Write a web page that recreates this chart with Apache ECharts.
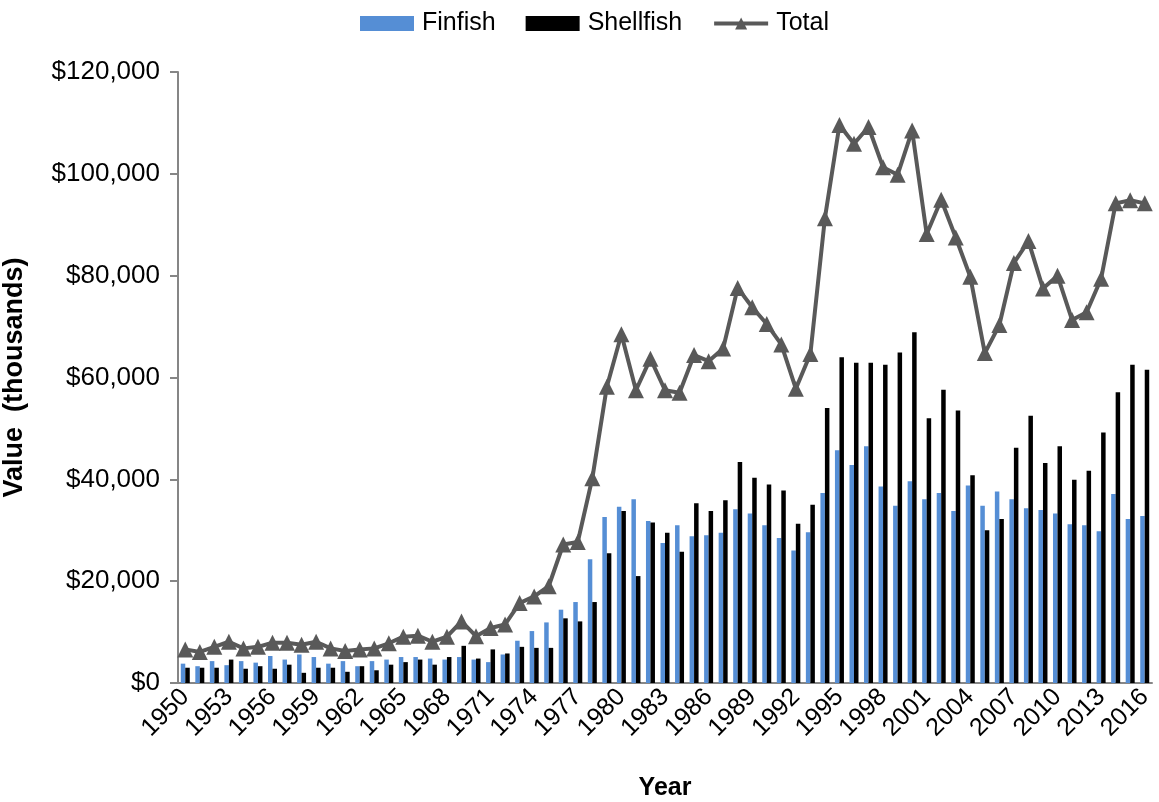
<!DOCTYPE html>
<html>
<head>
<meta charset="utf-8">
<title>Finfish and Shellfish Value</title>
<script src="https://cdn.jsdelivr.net/npm/echarts@6/dist/echarts.min.js"></script>
<style>
  html, body { margin: 0; padding: 0; background: #fff; }
  #chart { width: 1159px; height: 802px; }
</style>
</head>
<body>
<div id="chart"></div>
<script>
  // years on the x axis
  var years = [
    '1950','1951','1952','1953','1954','1955','1956','1957','1958','1959',
    '1960','1961','1962','1963','1964','1965','1966','1967','1968','1969',
    '1970','1971','1972','1973','1974','1975','1976','1977','1978','1979',
    '1980','1981','1982','1983','1984','1985','1986','1987','1988','1989',
    '1990','1991','1992','1993','1994','1995','1996','1997','1998','1999',
    '2000','2001','2002','2003','2004','2005','2006','2007','2008','2009',
    '2010','2011','2012','2013','2014','2015','2016'
  ];

  // values in thousands of dollars
  var finfish = [
    3800, 3300, 4300, 3500, 4300, 4000, 5300, 4600, 5600, 5100,
    3800, 4300, 3300, 4300, 4600, 5100, 5100, 4800, 4600, 5100,
    4600, 4100, 5600, 8300, 10200, 11900, 14400, 15900, 24300, 32600,
    34600, 36100, 31800, 27500, 31000, 28800, 29000, 29500, 34100, 33300,
    31000, 28500, 26000, 29600, 37300, 45700, 42800, 46500, 38600, 34800,
    39600, 36100, 37300, 33800, 38800, 34800, 37600, 36100, 34300, 34000,
    33300, 31200, 31000, 29800, 37100, 32200, 32800
  ];

  var shellfish = [
    3000, 3000, 3000, 4600, 2800, 3300, 2800, 3600, 2000, 3000,
    3000, 2200, 3300, 2500, 3600, 4100, 4600, 3600, 5100, 7300,
    4800, 6600, 5800, 7100, 6900, 6900, 12700, 12100, 15900, 25500,
    33800, 21000, 31500, 29500, 25800, 35300, 33800, 35900, 43400, 40300,
    39000, 37800, 31300, 35000, 54000, 64000, 62900, 62900, 62500, 64900,
    68900, 52000, 57600, 53500, 40800, 30000, 32200, 46200, 52500, 43200,
    46500, 39900, 41700, 49200, 57100, 62500, 61500
  ];

  var total = [
    6600, 6100, 7100, 8100, 6800, 7100, 7900, 7900, 7500, 8100,
    6800, 6300, 6600, 6800, 7800, 9100, 9300, 8100, 9100, 12100,
    9200, 10800, 11500, 15700, 17000, 19000, 27200, 27700, 40200, 58200,
    68500, 57500, 63700, 57500, 57000, 64400, 63200, 65700, 77600, 73800,
    70500, 66500, 57800, 64600, 91300, 109600, 105900, 109200, 101300, 99800,
    108500, 88200, 94900, 87500, 79800, 64800, 70300, 82500, 86800, 77500,
    80000, 71300, 72800, 79400, 94200, 94800, 94200
  ];

  var font = "'Liberation Sans', Arial, sans-serif";
  var axisGray = '#868686';
  var lineGray = '#595959';

  var chart = echarts.init(document.getElementById('chart'));

  chart.setOption({
    animation: false,
    backgroundColor: '#ffffff',
    textStyle: { fontFamily: font, color: '#000' },
    legend: {
      top: 6,
      left: 355,
      itemWidth: 54,
      itemHeight: 15,
      itemGap: 30,
      textStyle: { fontSize: 25, color: '#000', fontFamily: font, padding: [0, 0, 0, 3] },
      data: [
        { name: 'Finfish', icon: 'rect' },
        { name: 'Shellfish', icon: 'rect' },
        { name: 'Total', lineStyle: { width: 4, color: lineGray }, itemStyle: { color: lineGray } }
      ]
    },
    grid: {
      left: 178,
      right: 7,
      top: 72,
      bottom: 119,
      outerBoundsMode: 'none'
    },
    xAxis: {
      type: 'category',
      data: years,
      boundaryGap: true,
      name: 'Year',
      nameLocation: 'middle',
      nameGap: 93,
      nameTextStyle: { fontSize: 25, fontWeight: 'bold', color: '#000', fontFamily: font },
      axisLine: { lineStyle: { color: axisGray, width: 2 } },
      axisTick: { interval: 0, length: 7, lineStyle: { color: axisGray, width: 2 } },
      axisLabel: {
        interval: 2,
        rotate: 45,
        fontSize: 25,
        color: '#000',
        margin: 10,
        fontFamily: font
      },
      splitLine: { show: false }
    },
    yAxis: {
      type: 'value',
      min: 0,
      max: 120000,
      interval: 20000,
      name: 'Value  (thousands)',
      nameLocation: 'middle',
      nameGap: 150,
      nameTextStyle: { fontSize: 27, fontWeight: 'bold', color: '#000', fontFamily: font },
      axisLine: { show: true, lineStyle: { color: axisGray, width: 2 } },
      axisTick: { show: true, length: 8, lineStyle: { color: axisGray, width: 2 } },
      axisLabel: {
        fontSize: 26,
        color: '#000',
        margin: 18,
        fontFamily: font,
        formatter: function (v) {
          return '$' + v.toLocaleString('en-US');
        }
      },
      splitLine: { show: false }
    },
    series: [
      {
        name: 'Finfish',
        type: 'bar',
        data: finfish,
        barWidth: 4.5,
        barGap: '0%',
        itemStyle: { color: '#558ed5' }
      },
      {
        name: 'Shellfish',
        type: 'bar',
        data: shellfish,
        barWidth: 4.5,
        barGap: '0%',
        itemStyle: { color: '#000000' }
      },
      {
        name: 'Total',
        type: 'line',
        data: total,
        symbol: 'triangle',
        symbolSize: 16,
        showAllSymbol: true,
        lineStyle: { color: lineGray, width: 4 },
        itemStyle: { color: lineGray },
        z: 5
      }
    ]
  });
</script>
</body>
</html>
